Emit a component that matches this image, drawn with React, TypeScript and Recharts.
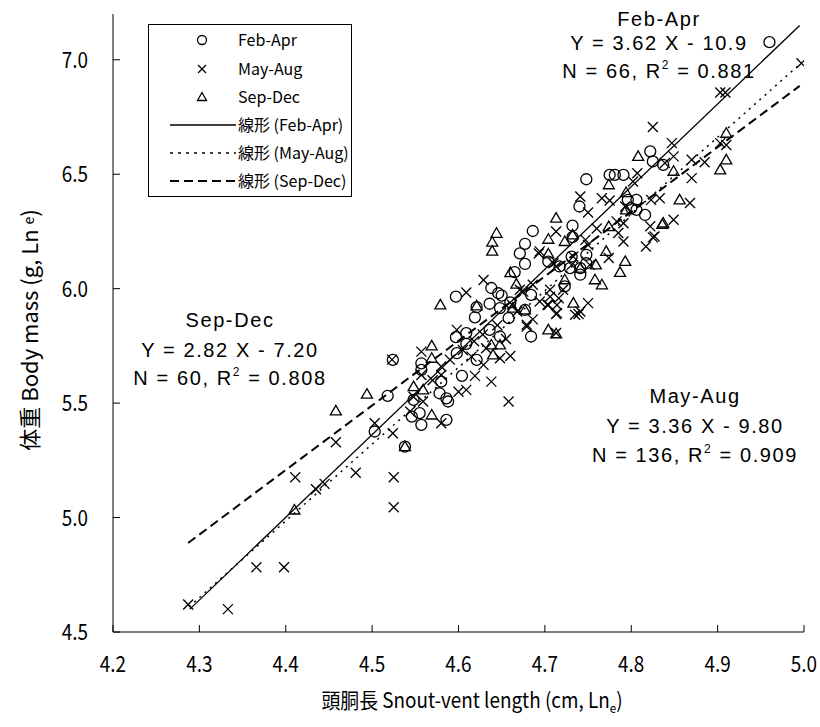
import React from 'react';
import { ScatterChart, Scatter, XAxis, YAxis, Legend, Customized } from 'recharts';

const xTicks = [4.2, 4.3, 4.4, 4.5, 4.6, 4.7, 4.8, 4.9, 5.0];
const yTicks = [4.5, 5.0, 5.5, 6.0, 6.5, 7.0];
const seriesNames = ['Feb-Apr', 'May-Aug', 'Sep-Dec', '線形 (Feb-Apr)', '線形 (May-Aug)', '線形 (Sep-Dec)'];

const febApr = [
  { x: 4.960, y: 7.077 }, { x: 4.822, y: 6.600 }, { x: 4.825, y: 6.556 }, { x: 4.837, y: 6.541 },
  { x: 4.775, y: 6.497 }, { x: 4.781, y: 6.497 }, { x: 4.791, y: 6.497 }, { x: 4.748, y: 6.478 },
  { x: 4.740, y: 6.359 }, { x: 4.806, y: 6.388 }, { x: 4.796, y: 6.388 }, { x: 4.800, y: 6.352 },
  { x: 4.806, y: 6.344 }, { x: 4.816, y: 6.322 }, { x: 4.732, y: 6.275 }, { x: 4.686, y: 6.252 },
  { x: 4.732, y: 6.225 }, { x: 4.677, y: 6.196 }, { x: 4.671, y: 6.154 }, { x: 4.677, y: 6.108 },
  { x: 4.665, y: 6.072 }, { x: 4.638, y: 6.003 }, { x: 4.646, y: 5.980 }, { x: 4.650, y: 5.970 },
  { x: 4.597, y: 5.965 }, { x: 4.684, y: 5.973 }, { x: 4.636, y: 5.934 }, { x: 4.648, y: 5.915 },
  { x: 4.621, y: 5.919 }, { x: 4.619, y: 5.875 }, { x: 4.684, y: 5.791 }, { x: 4.658, y: 5.871 },
  { x: 4.597, y: 5.788 }, { x: 4.609, y: 5.806 }, { x: 4.636, y: 5.820 }, { x: 4.648, y: 5.791 },
  { x: 4.609, y: 5.759 }, { x: 4.524, y: 5.689 }, { x: 4.557, y: 5.674 }, { x: 4.557, y: 5.645 },
  { x: 4.598, y: 5.718 }, { x: 4.621, y: 5.689 }, { x: 4.604, y: 5.619 }, { x: 4.580, y: 5.594 },
  { x: 4.518, y: 5.532 }, { x: 4.578, y: 5.543 }, { x: 4.586, y: 5.521 }, { x: 4.588, y: 5.507 },
  { x: 4.546, y: 5.441 }, { x: 4.557, y: 5.405 }, { x: 4.586, y: 5.427 }, { x: 4.548, y: 5.514 },
  { x: 4.503, y: 5.376 }, { x: 4.538, y: 5.310 }, { x: 4.731, y: 6.140 }, { x: 4.748, y: 6.148 },
  { x: 4.748, y: 6.111 }, { x: 4.717, y: 6.097 }, { x: 4.704, y: 6.118 }, { x: 4.729, y: 6.090 },
  { x: 4.741, y: 6.090 }, { x: 4.741, y: 6.061 }, { x: 4.723, y: 6.010 }, { x: 4.677, y: 5.907 },
  { x: 4.555, y: 5.456 }, { x: 4.660, y: 5.940 },
];

const mayAug = [
  { x: 4.287, y: 4.620 }, { x: 4.333, y: 4.600 }, { x: 4.366, y: 4.783 }, { x: 4.398, y: 4.783 },
  { x: 4.411, y: 5.176 }, { x: 4.435, y: 5.124 }, { x: 4.445, y: 5.147 }, { x: 4.458, y: 5.329 },
  { x: 4.481, y: 5.196 }, { x: 4.503, y: 5.412 }, { x: 4.524, y: 5.368 }, { x: 4.525, y: 5.176 },
  { x: 4.525, y: 5.045 }, { x: 4.523, y: 5.690 }, { x: 4.693, y: 6.154 }, { x: 4.629, y: 6.038 },
  { x: 4.609, y: 5.983 }, { x: 4.686, y: 6.017 }, { x: 4.686, y: 5.866 }, { x: 4.679, y: 5.842 },
  { x: 4.598, y: 5.820 }, { x: 4.605, y: 5.732 }, { x: 4.557, y: 5.725 }, { x: 4.557, y: 5.623 },
  { x: 4.580, y: 5.660 }, { x: 4.615, y: 5.703 }, { x: 4.629, y: 5.667 }, { x: 4.648, y: 5.696 },
  { x: 4.660, y: 5.706 }, { x: 4.619, y: 5.619 }, { x: 4.638, y: 5.594 }, { x: 4.658, y: 5.507 },
  { x: 4.580, y: 5.623 }, { x: 4.548, y: 5.528 }, { x: 4.559, y: 5.507 }, { x: 4.600, y: 5.550 },
  { x: 4.609, y: 5.558 }, { x: 4.544, y: 5.463 }, { x: 4.580, y: 5.412 }, { x: 4.703, y: 5.930 },
  { x: 4.713, y: 5.889 }, { x: 4.739, y: 5.889 }, { x: 4.750, y: 5.937 }, { x: 4.713, y: 5.806 },
  { x: 4.839, y: 6.549 }, { x: 4.807, y: 6.504 }, { x: 4.802, y: 6.468 }, { x: 4.741, y: 6.403 },
  { x: 4.750, y: 6.333 }, { x: 4.766, y: 6.395 }, { x: 4.775, y: 6.385 }, { x: 4.793, y: 6.359 },
  { x: 4.823, y: 6.388 }, { x: 4.833, y: 6.395 }, { x: 4.822, y: 6.273 }, { x: 4.825, y: 6.224 },
  { x: 4.817, y: 6.184 }, { x: 4.713, y: 6.250 }, { x: 4.694, y: 6.163 }, { x: 4.747, y: 6.213 },
  { x: 4.760, y: 6.263 }, { x: 4.783, y: 6.294 }, { x: 4.791, y: 6.286 }, { x: 4.785, y: 6.243 },
  { x: 4.791, y: 6.206 }, { x: 4.774, y: 6.134 }, { x: 4.750, y: 6.191 }, { x: 4.733, y: 6.140 },
  { x: 4.710, y: 6.111 }, { x: 4.713, y: 6.097 }, { x: 4.731, y: 6.104 }, { x: 4.752, y: 6.104 },
  { x: 4.706, y: 5.995 }, { x: 4.706, y: 5.965 }, { x: 4.716, y: 5.958 }, { x: 4.714, y: 5.929 },
  { x: 4.704, y: 5.929 }, { x: 4.714, y: 5.893 }, { x: 4.721, y: 5.995 }, { x: 4.741, y: 5.900 },
  { x: 4.735, y: 5.886 }, { x: 4.679, y: 5.834 }, { x: 4.671, y: 5.995 }, { x: 4.675, y: 5.987 },
  { x: 4.694, y: 5.944 }, { x: 4.903, y: 6.857 }, { x: 4.909, y: 6.857 }, { x: 4.825, y: 6.706 },
  { x: 4.847, y: 6.636 }, { x: 4.849, y: 6.578 }, { x: 4.903, y: 6.636 }, { x: 4.910, y: 6.628 },
  { x: 4.885, y: 6.552 }, { x: 4.870, y: 6.563 }, { x: 4.870, y: 6.483 }, { x: 4.868, y: 6.374 },
  { x: 4.849, y: 6.301 }, { x: 4.827, y: 6.228 }, { x: 4.997, y: 6.985 }, { x: 4.628, y: 5.800 },
  { x: 4.645, y: 5.840 }, { x: 4.655, y: 5.780 }, { x: 4.618, y: 5.770 }, { x: 4.632, y: 5.740 },
  { x: 4.590, y: 5.690 }, { x: 4.570, y: 5.600 }, { x: 4.668, y: 5.900 }, { x: 4.662, y: 5.930 },
];

const sepDec = [
  { x: 4.410, y: 5.033 }, { x: 4.458, y: 5.466 }, { x: 4.494, y: 5.539 }, { x: 4.538, y: 5.310 },
  { x: 4.644, y: 6.242 }, { x: 4.639, y: 6.203 }, { x: 4.639, y: 6.164 }, { x: 4.660, y: 6.070 },
  { x: 4.667, y: 6.020 }, { x: 4.579, y: 5.929 }, { x: 4.663, y: 5.915 }, { x: 4.677, y: 5.907 },
  { x: 4.621, y: 5.925 }, { x: 4.638, y: 5.754 }, { x: 4.648, y: 5.754 }, { x: 4.569, y: 5.750 },
  { x: 4.569, y: 5.696 }, { x: 4.640, y: 5.711 }, { x: 4.548, y: 5.572 }, { x: 4.559, y: 5.558 },
  { x: 4.569, y: 5.448 }, { x: 4.733, y: 5.937 }, { x: 4.704, y: 5.820 }, { x: 4.808, y: 6.578 },
  { x: 4.774, y: 6.454 }, { x: 4.794, y: 6.420 }, { x: 4.794, y: 6.344 }, { x: 4.836, y: 6.281 },
  { x: 4.713, y: 6.308 }, { x: 4.732, y: 6.235 }, { x: 4.704, y: 6.216 }, { x: 4.723, y: 6.206 },
  { x: 4.704, y: 6.152 }, { x: 4.774, y: 6.271 }, { x: 4.771, y: 6.163 }, { x: 4.793, y: 6.119 },
  { x: 4.787, y: 6.071 }, { x: 4.741, y: 6.090 }, { x: 4.759, y: 6.104 }, { x: 4.758, y: 6.039 },
  { x: 4.766, y: 6.017 }, { x: 4.723, y: 6.039 }, { x: 4.713, y: 5.803 }, { x: 4.849, y: 6.513 },
  { x: 4.910, y: 6.679 }, { x: 4.910, y: 6.563 }, { x: 4.903, y: 6.519 }, { x: 4.856, y: 6.388 },
  { x: 4.837, y: 6.287 },
];

const fitFebApr = [{ x: 4.289, y: 4.600 }, { x: 4.995, y: 7.150 }];
const fitMayAug = [{ x: 4.288, y: 4.610 }, { x: 4.995, y: 6.980 }];
const fitSepDec = [{ x: 4.287, y: 4.889 }, { x: 4.995, y: 6.886 }];

const annTitles = ['Feb-Apr', 'Sep-Dec', 'May-Aug'];
const annEquations = ['Y = 3.62 X - 10.9', 'Y = 2.82 X - 7.20', 'Y = 3.36 X - 9.80'];
const annN = ['66', '60', '136'];
const annR2 = ['0.881', '0.808', '0.909'];

const FONT = "'Noto Sans CJK JP', 'Noto Sans', sans-serif";
const SW = 1.3;

const CircleShape = (p: any) => (
  <circle cx={p.cx} cy={p.cy} r={5.5} fill="none" stroke="#000" strokeWidth={SW} />
);
const CrossShape = (p: any) => {
  const s = 5;
  return (
    <g stroke="#000" strokeWidth={SW}>
      <line x1={p.cx - s} y1={p.cy - s} x2={p.cx + s} y2={p.cy + s} />
      <line x1={p.cx - s} y1={p.cy + s} x2={p.cx + s} y2={p.cy - s} />
    </g>
  );
};
const TriShape = (p: any) => (
  <path
    d={`M${p.cx},${p.cy - 5.5}L${p.cx + 5.5},${p.cy + 4}L${p.cx - 5.5},${p.cy + 4}Z`}
    fill="none"
    stroke="#000"
    strokeWidth={SW}
  />
);
const NoShape = () => <g />;

const XTick = (props: any) => {
  const { x, y, payload } = props;
  return (
    <g>
      <line x1={x} y1={y} x2={x} y2={y - 7} stroke="#000" strokeWidth={1} />
      <text
        transform={`translate(${x} ${y + 40}) scale(0.86 1)`}
        textAnchor="middle"
        fontFamily={FONT}
        fontSize={22}
        fill="#000"
      >
        {Number(payload.value).toFixed(1)}
      </text>
    </g>
  );
};
const YTick = (props: any) => {
  const { x, y, payload } = props;
  return (
    <g>
      <line x1={x} y1={y} x2={x + 7} y2={y} stroke="#000" strokeWidth={1} />
      <text
        transform={`translate(${x - 25} ${y + 8}) scale(0.86 1)`}
        textAnchor="end"
        fontFamily={FONT}
        fontSize={22}
        fill="#000"
      >
        {Number(payload.value).toFixed(1)}
      </text>
    </g>
  );
};

const LegendBox = () => {
  const rows = [16, 45, 73, 101, 129, 157];
  const icon = (i: number, cy: number) => {
    const cx = 54;
    if (i === 0) return <circle cx={cx} cy={cy} r={4.5} fill="none" stroke="#000" strokeWidth={1.3} />;
    if (i === 1)
      return (
        <g stroke="#000" strokeWidth={1.3}>
          <line x1={cx - 4} y1={cy - 4} x2={cx + 4} y2={cy + 4} />
          <line x1={cx - 4} y1={cy + 4} x2={cx + 4} y2={cy - 4} />
        </g>
      );
    if (i === 2)
      return <path d={`M${cx},${cy - 4.5}L${cx + 4.5},${cy + 3.5}L${cx - 4.5},${cy + 3.5}Z`} fill="none" stroke="#000" strokeWidth={1.3} />;
    const dash = i === 3 ? undefined : i === 4 ? '3 5' : '9 5';
    return <line x1={22} y1={cy} x2={88} y2={cy} stroke="#000" strokeWidth={i === 5 ? 2 : 1.3} strokeDasharray={dash} />;
  };
  return (
    <svg width={204} height={173} style={{ display: 'block' }}>
      <rect x={0.5} y={0.5} width={203} height={172} fill="#fff" stroke="#000" strokeWidth={1} />
      {seriesNames.map((n, i) => (
        <g key={n}>
          {icon(i, rows[i])}
          <text x={90} y={rows[i] + 6} fontFamily={FONT} fontSize={16} fill="#000">
            {n}
          </text>
        </g>
      ))}
    </svg>
  );
};

const Annotations = () => {
  const pos = [
    { x: 659, y: [26, 50, 78] },
    { x: 230, y: [327, 357, 385] },
    { x: 695, y: [403, 433, 462] },
  ];
  const textProps = {
    fontFamily: "'Liberation Sans', Arial, sans-serif",
    fontSize: 20,
    fill: '#000',
    textAnchor: 'middle' as const,
    letterSpacing: 1.6,
  };
  return (
    <g>
      {annTitles.map((t, i) => (
        <g key={t}>
          <text x={pos[i].x} y={pos[i].y[0]} {...textProps}>{t}</text>
          <text x={pos[i].x} y={pos[i].y[1]} {...textProps}>{annEquations[i]}</text>
          <text x={pos[i].x} y={pos[i].y[2]} {...textProps}>
            {`N = ${annN[i]}, R`}
            <tspan dy={-9} fontSize={12}>2</tspan>
            <tspan dy={9}>{` = ${annR2[i]}`}</tspan>
          </text>
        </g>
      ))}
      <text transform="translate(472 708) scale(0.9 1)" fontFamily={FONT} fontSize={21} fill="#000" textAnchor="middle">
        頭胴長 Snout-vent length (cm, Ln<tspan dy={5} fontSize={13}>e</tspan><tspan dy={-5}>)</tspan>
      </text>
      <text
        x={0}
        y={0}
        transform="translate(28 330) rotate(-90)"
        fontFamily={FONT}
        fontSize={22}
        fill="#000"
        textAnchor="middle"
        dominantBaseline="central"
      >
        体重 Body mass (g, Ln <tspan fontSize={14}>e</tspan>)
      </text>
    </g>
  );
};

export default function App() {
  return (
    <div style={{ position: 'absolute', left: 0, top: 0, width: 820, height: 727, background: '#fff' }}>
      <ScatterChart width={820} height={727} margin={{ top: 14, right: 16, left: 0, bottom: 0 }}>
        <XAxis
          type="number"
          dataKey="x"
          domain={[4.2, 5.0]}
          ticks={xTicks}
          height={95}
          tickSize={0}
          tickMargin={0}
          tickLine={false}
          tick={<XTick />}
          axisLine={{ stroke: '#000', strokeWidth: 1 }}
          allowDataOverflow
        />
        <YAxis
          type="number"
          dataKey="y"
          domain={[4.5, 7.2]}
          ticks={yTicks}
          width={113}
          tickSize={0}
          tickMargin={0}
          tickLine={false}
          tick={<YTick />}
          axisLine={{ stroke: '#000', strokeWidth: 1 }}
          allowDataOverflow
        />
        <Scatter name={seriesNames[3]} data={fitFebApr} line={{ stroke: '#000', strokeWidth: 1.3 }} shape={NoShape} isAnimationActive={false} />
        <Scatter name={seriesNames[4]} data={fitMayAug} line={{ stroke: '#000', strokeWidth: 1.5, strokeDasharray: '2 5' }} shape={NoShape} isAnimationActive={false} />
        <Scatter name={seriesNames[5]} data={fitSepDec} line={{ stroke: '#000', strokeWidth: 2, strokeDasharray: '9 5' }} shape={NoShape} isAnimationActive={false} />
        <Scatter name={seriesNames[0]} data={febApr} shape={CircleShape} isAnimationActive={false} />
        <Scatter name={seriesNames[1]} data={mayAug} shape={CrossShape} isAnimationActive={false} />
        <Scatter name={seriesNames[2]} data={sepDec} shape={TriShape} isAnimationActive={false} />
        <Legend
          layout="horizontal"
          verticalAlign="middle"
          align="center"
          content={<LegendBox />}
          wrapperStyle={{ left: 148, top: 24, width: 204, height: 173 }}
        />
        <Customized component={<Annotations />} />
      </ScatterChart>
    </div>
  );
}
